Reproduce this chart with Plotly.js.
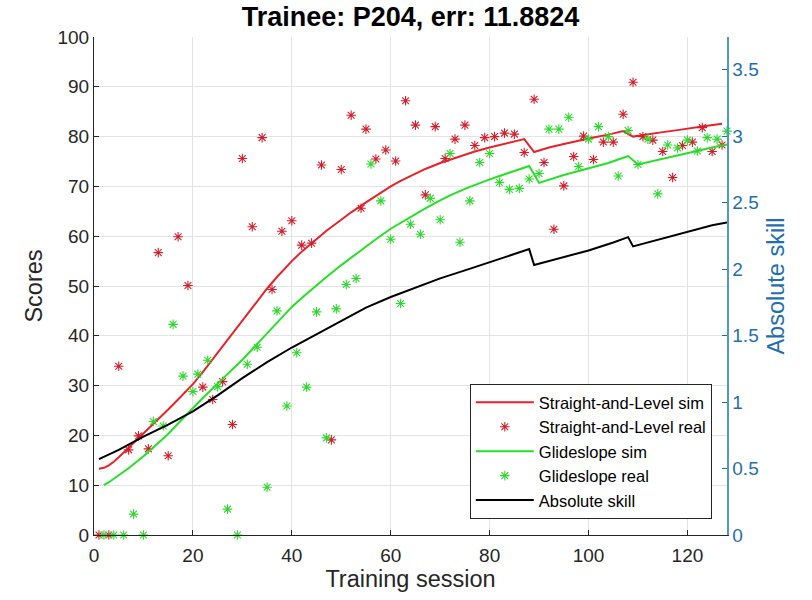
<!DOCTYPE html>
<html>
<head>
<meta charset="utf-8">
<script src="https://cdn.plot.ly/plotly-3.0.1.min.js"></script>
<style>html,body{margin:0;padding:0;background:#fff;}#chart{width:812px;height:600px;}</style>
</head>
<body>
<div id="chart"></div>
<script>
// ---- Data ----
var slSimX = [1, 2, 3, 4, 5, 7, 10, 12, 15, 17, 20, 22, 25, 27, 30, 32, 35, 37, 40, 42, 45, 47, 50, 52, 55, 57, 60, 62, 65, 67, 70, 72, 75, 77, 80, 82, 85, 87, 89, 92, 95, 98, 101, 104, 107, 109, 112, 115, 118, 121, 124, 127];
var slSimY = [13.3, 13.5, 14.0, 14.7, 15.6, 17.5, 20.3, 22.2, 25.2, 27.2, 30.3, 32.7, 36.6, 39.3, 43.2, 45.7, 49.5, 51.8, 55.0, 56.9, 59.5, 61.1, 63.3, 64.8, 66.8, 68.1, 70.0, 71.1, 72.6, 73.5, 74.7, 75.4, 76.4, 77.0, 77.8, 78.3, 79.0, 79.5, 76.9, 77.8, 78.5, 79.2, 79.8, 80.4, 81.1, 80.0, 80.5, 80.9, 81.3, 81.8, 82.2, 82.6];

var slRealX = [1, 3, 5, 7, 9, 11, 13, 15, 17, 19, 22, 24, 26, 28, 30, 32, 34, 36, 38, 40, 42, 44, 46, 48, 50, 52, 54, 55, 57, 59, 61, 63, 65, 67, 69, 71, 73, 75, 77, 79, 81, 83, 85, 87, 89, 91, 93, 95, 97, 99, 101, 103, 105, 107, 109, 111, 113, 115, 117, 119, 121, 123, 125, 127];
var slRealY = [0, 0, 33.9, 17.1, 19.9, 17.3, 56.7, 15.9, 59.9, 50.1, 29.7, 27.2, 30.8, 22.2, 75.6, 61.9, 79.8, 49.3, 61.0, 63.1, 58.2, 58.6, 74.3, 19.1, 73.4, 84.3, 65.6, 81.5, 75.5, 77.3, 75.1, 87.2, 82.3, 68.3, 82.0, 75.6, 79.5, 82.3, 78.2, 79.8, 80.0, 80.7, 80.5, 76.8, 87.5, 74.8, 61.4, 70.1, 76.0, 80.1, 75.4, 78.9, 78.9, 84.5, 90.9, 80.0, 79.3, 77.0, 71.8, 78.2, 78.9, 81.8, 77.0, 78.3];

var gsSimX = [2, 3, 5, 7, 10, 12, 15, 17, 20, 22, 25, 27, 30, 32, 35, 37, 40, 42, 45, 47, 50, 52, 55, 57, 60, 62, 65, 67, 70, 72, 75, 77, 80, 82, 85, 88, 90, 92, 95, 98, 101, 104, 106, 108, 110, 113, 116, 119, 122, 125, 128];
var gsSimY = [10.0, 10.6, 12.0, 13.4, 15.8, 17.6, 20.3, 22.4, 25.5, 27.5, 30.4, 32.3, 35.2, 37.3, 40.5, 42.6, 45.8, 47.6, 50.2, 51.8, 54.2, 55.7, 58.0, 59.4, 61.5, 62.7, 64.5, 65.6, 67.2, 68.2, 69.5, 70.3, 71.4, 72.1, 73.1, 74.1, 70.7, 71.4, 72.3, 73.1, 73.9, 74.7, 75.4, 76.1, 74.4, 75.1, 75.8, 76.5, 77.1, 77.8, 78.4];

var gsRealX = [2, 4, 6, 8, 10, 12, 14, 16, 18, 20, 21, 23, 25, 27, 29, 31, 33, 35, 37, 39, 41, 43, 45, 47, 49, 51, 53, 56, 58, 60, 62, 64, 66, 68, 70, 72, 74, 76, 78, 80, 82, 84, 86, 88, 90, 92, 94, 96, 98, 100, 102, 104, 106, 108, 110, 112, 114, 116, 118, 120, 122, 124, 126, 128];
var gsRealY = [0, 0, 0, 4.2, 0, 22.8, 21.9, 42.3, 31.9, 28.8, 32.3, 35.1, 29.8, 5.2, 0, 34.3, 37.7, 9.6, 45.0, 25.9, 36.6, 29.7, 44.8, 19.5, 45.4, 50.3, 51.5, 74.5, 67.1, 59.4, 46.5, 62.4, 60.4, 67.6, 63.3, 76.6, 58.8, 67.1, 74.8, 76.6, 70.8, 69.4, 69.6, 71.5, 72.6, 81.5, 81.5, 83.9, 74.0, 79.5, 82.0, 80.0, 72.1, 81.2, 74.4, 79.5, 68.5, 78.3, 77.7, 79.3, 77.1, 79.8, 79.5, 81.1];

var absX = [1, 5, 10, 15, 20, 25, 30, 35, 40, 45, 50, 55, 60, 65, 70, 75, 80, 85, 88, 89, 92, 95, 100, 105, 108, 109, 112, 115, 120, 125, 128];
var absY = [0.57, 0.64, 0.74, 0.83, 0.93, 1.05, 1.18, 1.30, 1.41, 1.51, 1.61, 1.71, 1.79, 1.86, 1.93, 1.99, 2.05, 2.11, 2.15, 2.03, 2.06, 2.09, 2.14, 2.20, 2.24, 2.17, 2.20, 2.23, 2.28, 2.33, 2.35];

var xTicks = [0, 20, 40, 60, 80, 100, 120];
var yTicks = [0, 10, 20, 30, 40, 50, 60, 70, 80, 90, 100];
var y2Ticks = [0, 0.5, 1, 1.5, 2, 2.5, 3, 3.5];
var y2TickText = ['0', '0.5', '1', '1.5', '2', '2.5', '3', '3.5'];

// ---- Styling ----
var RED = '#e8222a', RED_M = '#d31f2c', GREEN = '#26e026', GREEN_M = '#2fd82f';
var FONT = 'Liberation Sans, Arial, Helvetica, sans-serif';
var BLUE = '#1f6fae';

var traces = [
  {x: slSimX, y: slSimY, mode: 'lines', name: 'Straight-and-Level sim', line: {color: RED, width: 2}},
  {x: slRealX, y: slRealY, mode: 'markers', name: 'Straight-and-Level real', cliponaxis: false,
   marker: {symbol: 'asterisk-open', size: 8, color: RED_M, line: {color: RED_M, width: 1.1}}},
  {x: gsSimX, y: gsSimY, mode: 'lines', name: 'Glideslope sim', line: {color: GREEN, width: 2}},
  {x: gsRealX, y: gsRealY, mode: 'markers', name: 'Glideslope real', cliponaxis: false,
   marker: {symbol: 'asterisk-open', size: 8, color: GREEN_M, line: {color: GREEN_M, width: 1.1}}},
  {x: absX, y: absY, mode: 'lines', name: 'Absolute skill', yaxis: 'y2', line: {color: '#000000', width: 2}}
];

var layout = {
  width: 812, height: 600,
  paper_bgcolor: '#ffffff', plot_bgcolor: '#ffffff',
  margin: {l: 94, r: 85, t: 37, b: 65},
  font: {family: FONT, size: 19, color: '#262626'},
  title: {text: '<b>Trainee: P204, err: 11.8824</b>', xref: 'paper', x: 0.5, xanchor: 'center',
          yref: 'container', y: 0.972, yanchor: 'middle', font: {family: FONT, size: 27, color: '#000'}},
  showlegend: true,
  legend: {x: 0.976, xanchor: 'right', y: 0.032, yanchor: 'bottom', bgcolor: '#ffffff',
           bordercolor: '#262626', borderwidth: 1, font: {family: FONT, size: 16.5, color: '#000'},
           itemwidth: 58, tracegroupgap: 0},
  xaxis: {range: [0, 128], tickvals: xTicks, ticktext: xTicks.map(String), ticks: 'inside', ticklen: 5,
          tickcolor: '#262626', showline: true, linecolor: '#262626', linewidth: 1,
          showgrid: true, gridcolor: '#e3e3e3', zeroline: false, ticklabelstandoff: 3,
          tickfont: {size: 19, color: '#262626'},
          title: {text: 'Training session', font: {size: 23.5, color: '#262626'}, standoff: 4}},
  yaxis: {range: [0, 100], tickvals: yTicks, ticktext: yTicks.map(String), ticks: 'inside', ticklen: 5,
          tickcolor: '#262626', showline: true, linecolor: '#262626', linewidth: 1,
          showgrid: true, gridcolor: '#e3e3e3', zeroline: false,
          tickfont: {size: 19, color: '#262626'},
          title: {text: 'Scores', font: {size: 23.5, color: '#262626'}, standoff: 8}},
  yaxis2: {overlaying: 'y', side: 'right', range: [0, 3.745], tickvals: y2Ticks, ticktext: y2TickText,
           ticks: 'inside', ticklen: 5, tickcolor: BLUE, showline: true, linecolor: '#4d9cc0', linewidth: 1.5,
           showgrid: false, zeroline: false, tickfont: {size: 19, color: BLUE},
           title: {text: 'Absolute skill', font: {size: 23.5, color: BLUE}, standoff: 10}}
};

Plotly.newPlot('chart', traces, layout, {displayModeBar: false, staticPlot: true});
</script>
</body>
</html>
